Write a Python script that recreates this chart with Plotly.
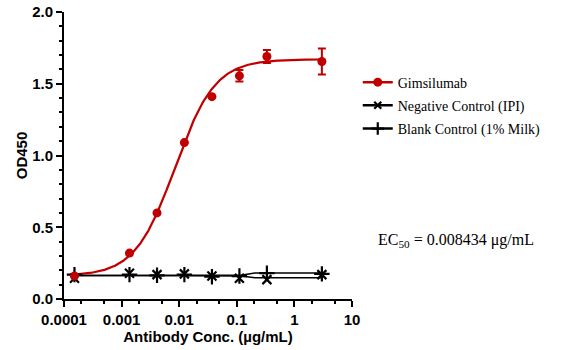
import numpy as np
import plotly.graph_objects as go

# ---------------- data ----------------
conc = [0.000152, 0.00137, 0.00412, 0.0123, 0.037, 0.111, 0.333, 3.0]
gims = [0.16, 0.32, 0.60, 1.09, 1.41, 1.555, 1.69, 1.655]
gims_err = [0.0, 0.0, 0.0, 0.0, 0.0, 0.04, 0.045, 0.09]
neg = [0.145, 0.18, 0.17, 0.175, 0.16, 0.145, 0.135, 0.17]
blank = [0.17, 0.17, 0.165, 0.17, 0.155, 0.16, 0.18, 0.175]

# fitted 4PL parameters (bottom, top, EC50, hill)
gims_fit = (0.16, 1.67, 0.008434, 1.25)
neg_fit = (0.165, 0.148, 0.14, 8.0)
blank_fit = (0.162, 0.182, 0.14, 8.0)

x_ticks = [0.0001, 0.001, 0.01, 0.1, 1, 10]
x_tick_text = ["0.0001", "0.001", "0.01", "0.1", "1", "10"]
y_ticks = [0.0, 0.5, 1.0, 1.5, 2.0]
y_tick_text = ["0.0", "0.5", "1.0", "1.5", "2.0"]

RED = "#C00000"


def four_pl(x, p):
    b, t, ec, h = p
    return b + (t - b) / (1 + (ec / x) ** h)


xf = np.logspace(np.log10(conc[0]), np.log10(conc[-1]), 300)

fig = go.Figure()

# fitted curves
for p, col, w in [(neg_fit, "black", 1.5), (blank_fit, "black", 1.5), (gims_fit, RED, 2.2)]:
    fig.add_trace(go.Scatter(x=xf, y=four_pl(xf, p), mode="lines",
                             line=dict(color=col, width=w), showlegend=False,
                             hoverinfo="skip"))

# points
fig.add_trace(go.Scatter(x=conc, y=neg, mode="markers", name="Negative Control (IPI)",
                         marker=dict(symbol="x-thin", size=9, line=dict(color="black", width=2.2)),
                         showlegend=False))
fig.add_trace(go.Scatter(x=conc, y=blank, mode="markers", name="Blank Control (1% Milk)",
                         marker=dict(symbol="cross-thin", size=11, line=dict(color="black", width=2.2)),
                         showlegend=False))
fig.add_trace(go.Scatter(x=conc, y=gims, mode="markers", name="Gimsilumab",
                         marker=dict(symbol="circle", size=9, color=RED),
                         error_y=dict(type="data", array=gims_err, color=RED, thickness=2, width=4),
                         showlegend=False))

# legend entries (line + marker)
fig.add_trace(go.Scatter(x=[None], y=[None], mode="lines+markers", name="Gimsilumab",
                         line=dict(color=RED, width=2.5), marker=dict(symbol="circle", size=9, color=RED),
                         legendgroup="a", legendrank=1))
fig.add_trace(go.Scatter(x=[None], y=[None], mode="lines+markers", name="Negative Control (IPI)",
                         line=dict(color="black", width=2.5),
                         marker=dict(symbol="x-thin", size=7, line=dict(color="black", width=2.2)),
                         legendgroup="b", legendrank=2))
fig.add_trace(go.Scatter(x=[None], y=[None], mode="lines+markers", name="Blank Control (1% Milk)",
                         line=dict(color="black", width=2.5),
                         marker=dict(symbol="cross-thin", size=9, line=dict(color="black", width=2.2)),
                         legendgroup="c", legendrank=3))

axis_font = dict(family="Liberation Sans, Arial", size=15, color="black", weight="bold")

fig.update_xaxes(type="log", range=[-4, 1], tickvals=x_ticks, ticktext=x_tick_text,
                 ticks="outside", ticklen=6, tickwidth=2, tickcolor="black",
                 minor=dict(ticks="outside", ticklen=3, tickwidth=1.5, tickcolor="black", showgrid=False),
                 showline=True, linecolor="black", linewidth=2, showgrid=False, zeroline=False,
                 tickfont=axis_font, automargin=False,
                 title=dict(text="Antibody Conc. (µg/mL)", font=axis_font, standoff=4))
fig.update_yaxes(range=[0, 2], tickvals=y_ticks, ticktext=y_tick_text,
                 ticks="outside", ticklen=6, tickwidth=2, tickcolor="black",
                 minor=dict(dtick=0.1, ticks="outside", ticklen=3, tickwidth=1.5, tickcolor="black", showgrid=False),
                 showline=True, linecolor="black", linewidth=2, showgrid=False, zeroline=False,
                 tickfont=axis_font, automargin=False,
                 title=dict(text="OD450", font=axis_font, standoff=1))

fig.add_annotation(text="EC<sub>50</sub> = 0.008434 μg/mL", xref="paper", yref="paper",
                   x=1.36, y=0.205, showarrow=False, xanchor="center", yanchor="middle",
                   font=dict(family="Liberation Serif, Times New Roman", size=16, color="black"))

fig.update_layout(
    width=566, height=350,
    margin=dict(l=64, r=214, t=12, b=51),
    plot_bgcolor="white", paper_bgcolor="white",
    legend=dict(x=1.02, y=0.81, xanchor="left", yanchor="top",
                font=dict(family="Liberation Serif, Times New Roman", size=14, color="black"),
                tracegroupgap=2, bgcolor="rgba(0,0,0,0)"),
)

fig.write_html("out.html")
